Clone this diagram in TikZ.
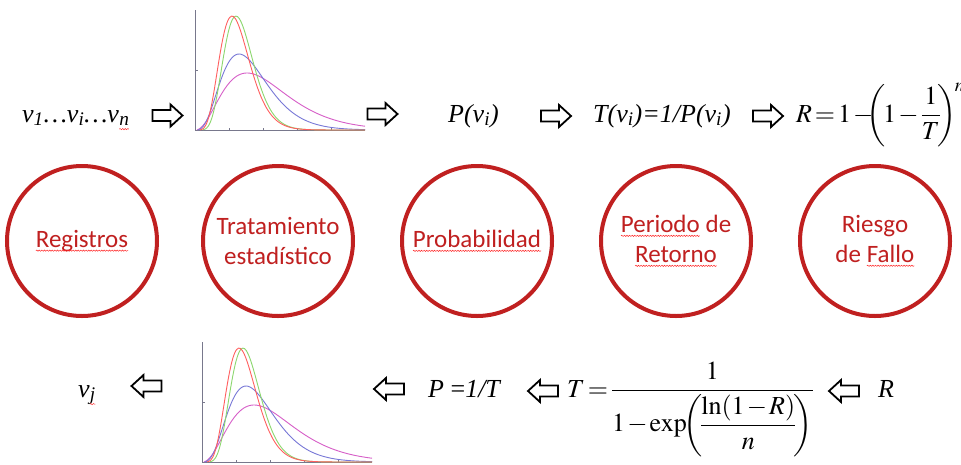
\documentclass[tikz,border=0pt]{standalone}
\usepackage{mathptmx}
\usepackage[no-math]{fontspec}
\setmainfont{Liberation Serif}
\newfontfamily\calibri{Carlito}
\usepackage{amsmath}
\usetikzlibrary{decorations.pathmorphing}
\definecolor{cred}{RGB}{192,32,32}
\definecolor{axisgray}{RGB}{120,120,140}
\definecolor{cvred}{RGB}{255,95,95}
\definecolor{cvgreen}{RGB}{140,215,110}
\definecolor{cvblue}{RGB}{120,120,215}
\definecolor{cvmag}{RGB}{215,95,200}
\newcommand\wavyword[1]{\tikz[baseline=(w.base)]{\node[inner sep=0pt, outer sep=0pt] (w) {#1};
  \draw[decorate, decoration={snake, amplitude=0.6pt, segment length=2.6pt}, red!85, line width=0.5pt]
  ([yshift=-3.2pt]w.base west) -- ([yshift=-3.2pt]w.base east);}}
\newcommand\tightmath{\thickmuskip=2mu\medmuskip=1.5mu}
\tikzset{
  ring/.style={circle, draw=cred, line width=4pt, minimum size=150pt, inner sep=0pt},
  ringtext/.style={text=cred, font=\calibri\fontsize{25}{30}\selectfont, align=center, inner sep=0pt},
  formula/.style={font=\fontsize{26}{31}\selectfont, inner sep=0pt},
  arrowline/.style={draw=black, fill=white, line width=1.8pt, line join=miter},
  blockarrow/.pic={
    \draw[arrowline] (-15,-5.5) -- (3,-5.5) -- (3,-11) -- (15,0) -- (3,11) -- (3,5.5) -- (-15,5.5) -- cycle;
  },
  axisline/.style={draw=axisgray, line width=0.9pt},
  curve/.style={line width=0.9pt, smooth, samples=90},
  pdfchart/.pic={
    \begin{scope}[yscale=-1]
      \draw[axisline] (0,120) -- (0,0) -- (170,0);
      \foreach \t in {34,68,102,136} \draw[axisline, line width=0.6pt] (\t,0) -- (\t,2.5);
      \draw[axisline, line width=0.6pt] (0,60) -- (2.5,60);
      \draw[curve, cvmag, domain=2:170] plot (\x,{57*exp(2.5*(ln(\x/52)+1-\x/52))});
      \draw[curve, cvblue, domain=3:170] plot (\x,{76*exp(3.5*(ln(\x/44)+1-\x/44))});
      \draw[curve, cvgreen, domain=8:170] plot (\x,{114*exp(7.5*(ln(\x/41)+1-\x/41))});
      \draw[curve, cvred, domain=5:170] plot (\x,{114*exp(6*(ln(\x/37)+1-\x/37))});
    \end{scope}
  }
}
\begin{document}
\begin{tikzpicture}[x=1pt, y=-1pt]
\useasboundingbox[fill=white] (0,0) rectangle (961,464);

% top row
\node[formula, anchor=base west] (vals) at (22,122)
  {\itshape v\textsubscript{1}…v\textsubscript{i}…v\textsubscript{\wavyword{n}}};
\pic (a1) at (167.5,115.5) {blockarrow};
\pic (g1) at (195,130) {pdfchart};
\pic (a2) at (382.5,114) {blockarrow};
\node[formula, anchor=base west] (prob) at (448,122) {\itshape P(v\textsubscript{i})};
\pic (a3) at (556,116) {blockarrow};
\node[formula, anchor=base west] (ret) at (593,122) {\itshape T(v\textsubscript{i})=1/P(v\textsubscript{i})};
\pic (a4) at (768,116) {blockarrow};
\node[formula, anchor=base west] (risk) at (796,122)
  {$\tightmath\displaystyle R = 1 - \!\!\!\bigg(\!1 - \frac{1}{T}\!\bigg)^{\!n}$};

% circles
\node[ring] (c1) at (82,241) {};
\node[ring] (c2) at (278,241) {};
\node[ring] (c3) at (477,241) {};
\node[ring] (c4) at (676,241) {};
\node[ring] (c5) at (875,241) {};
\node[ringtext] (t1) at (c1) {\wavyword{Registros}};
\node[ringtext] (t2) at (c2) {Tratamiento\\estadístico};
\node[ringtext] (t3) at (c3) {\wavyword{Probabilidad}};
\node[ringtext] (t4) at (c4) {\wavyword{Periodo} de\\\wavyword{Retorno}};
\node[ringtext] (t5) at (c5) {Riesgo\\de \wavyword{Fallo}};

% bottom row
\node[formula, anchor=base west] (vj) at (78,397)
  {\itshape v\textsubscript{\wavyword{j}}};
\pic[xscale=-1] (b1) at (146.5,386) {blockarrow};
\pic (g2) at (202,462) {pdfchart};
\pic[xscale=-1] (b2) at (389,389) {blockarrow};
\node[formula, anchor=base west] (pinv) at (428,397) {\itshape P \upshape=\itshape 1/T};
\pic[xscale=-1] (b3) at (543,391) {blockarrow};
\node[formula, anchor=base west] (tform) at (567,397)
  {$\tightmath\displaystyle T = \frac{1}{1 - \exp\!\!\bigg(\!\dfrac{\ln(1-R)}{n}\!\bigg)}$};
\pic[xscale=-1] (b4) at (844,391) {blockarrow};
\node[formula, anchor=base west] (rr) at (878,397) {\itshape R};
\end{tikzpicture}
\end{document}
